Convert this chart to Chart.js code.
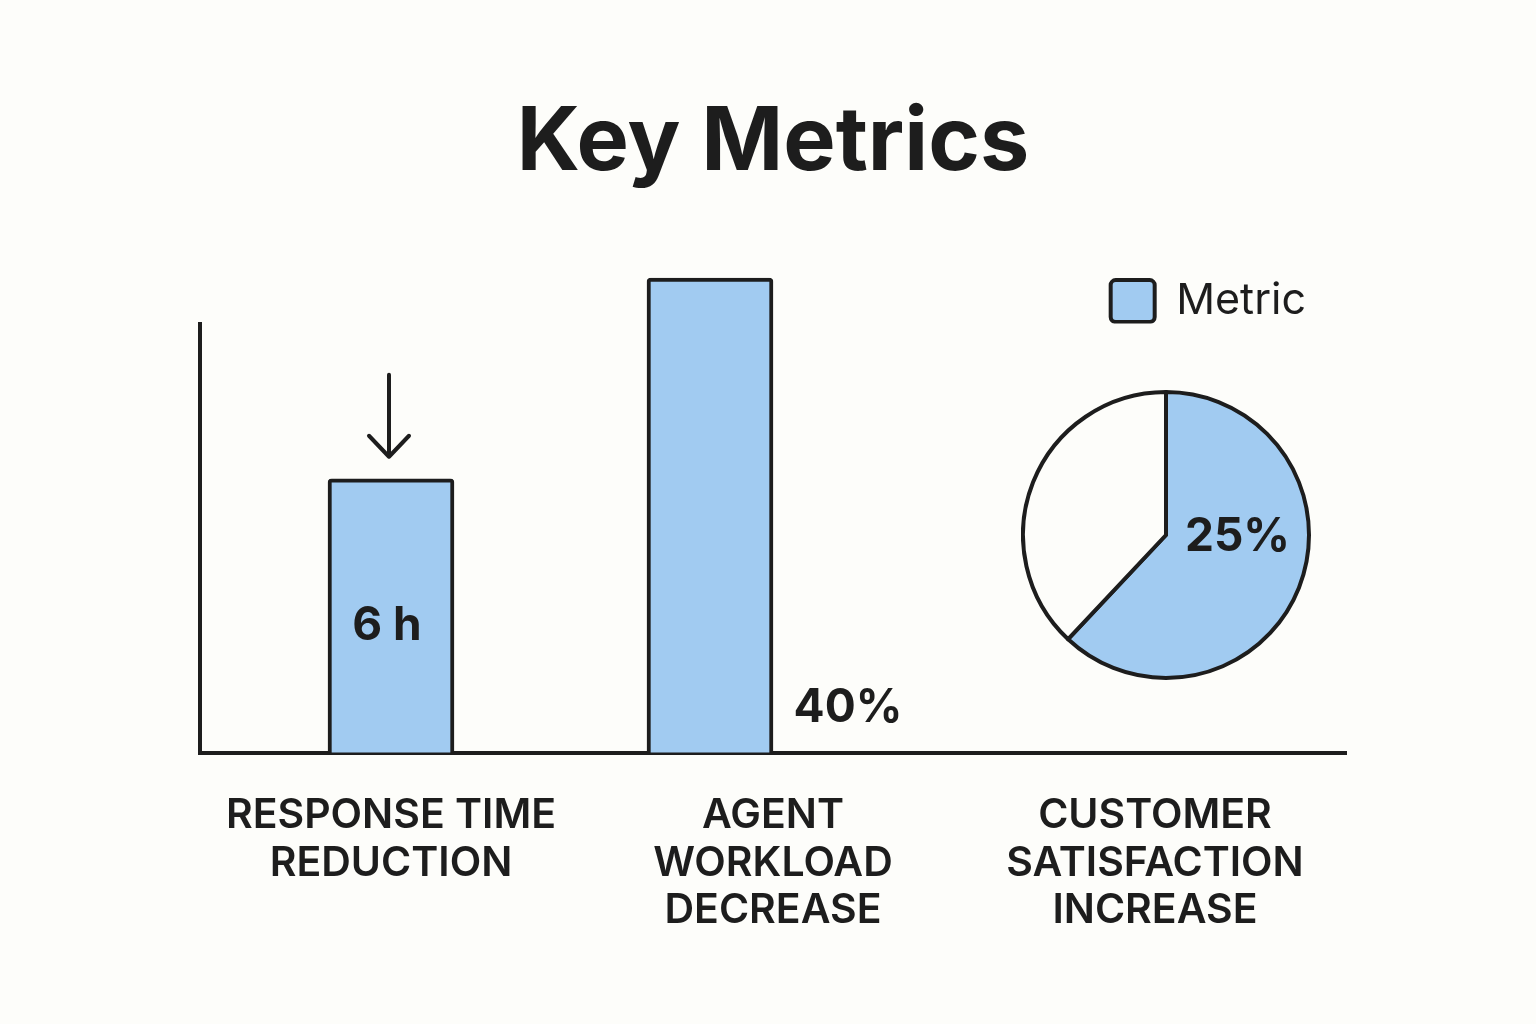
<!DOCTYPE html>
<html>
<head>
<meta charset="utf-8">
<title>Key Metrics</title>
<script src="https://cdn.jsdelivr.net/npm/chart.js@4.4.1/dist/chart.umd.min.js"></script>
<style>
    html, body { margin: 0; padding: 0; background: #fdfdfa; }
    #wrap { position: relative; width: 1536px; height: 1024px; }
    #main-chart { position: absolute; left: 0; top: 0; }
    #pie-chart { position: absolute; left: 1021px; top: 390px; }
</style>
</head>
<body>
<div id="wrap">
    <canvas id="main-chart" width="1536" height="1024"></canvas>
    <canvas id="pie-chart" width="290" height="290"></canvas>
</div>
<script>
// data
const categories = [
    ["RESPONSE TIME", "REDUCTION"],
    ["AGENT", "WORKLOAD", "DECREASE"],
    ["CUSTOMER", "SATISFACTION", "INCREASE"],
];
const metric_values = [6, 10.4, null];
// empty slot beside the workload bar, it only carries the "40%" note
const note_slot_values = [null, 0, null];
const value_notes = ["6 h", "40%", "25%"];
const satisfaction_labels = ["Metric", "Rest"];
const satisfaction_shares = [62, 38];
const y_axis_max = 9.4;

const INK = "#1d1d1d";
const BLUE = "#a1cbf1";
const PAPER = "#fdfdfa";

Chart.defaults.font.family = "Inter, 'Noto Sans', sans-serif";
Chart.defaults.color = INK;

document.addEventListener("DOMContentLoaded", () => {
    const note_font = "bold 46px Inter, 'Noto Sans', sans-serif";

    const bar_notes = {
        id: "bar_notes",
        afterDatasetsDraw(chart) {
            const ctx = chart.ctx;
            const bar = chart.getDatasetMeta(0).data[0];
            const slot = chart.getDatasetMeta(1).data[1];
            ctx.save();
            ctx.fillStyle = INK;
            ctx.font = note_font;
            ctx.textAlign = "center";
            ctx.textBaseline = "middle";
            ctx.fillText(value_notes[0], bar.x - 4, (bar.y + bar.base) / 2 + 11);
            ctx.fillText(value_notes[1], slot.x + 12, slot.base - 44);

            // arrow pointing down at the first bar
            ctx.strokeStyle = INK;
            ctx.lineWidth = 4;
            ctx.lineCap = "round";
            ctx.lineJoin = "round";
            const tip = bar.y - 22;
            ctx.beginPath();
            ctx.moveTo(bar.x - 2, bar.y - 104);
            ctx.lineTo(bar.x - 2, tip);
            ctx.moveTo(bar.x - 22, tip - 21);
            ctx.lineTo(bar.x - 2, tip);
            ctx.lineTo(bar.x + 18, tip - 21);
            ctx.stroke();
            ctx.restore();
        },
    };

    new Chart(document.getElementById("main-chart"), {
        type: "bar",
        data: {
            labels: categories,
            datasets: [
                {
                    label: "Metric",
                    data: metric_values,
                    backgroundColor: BLUE,
                    borderColor: INK,
                    borderWidth: 4,
                    borderRadius: 4,
                    barThickness: 126,
                    skipNull: true,
                    clip: false,
                },
                {
                    label: "note",
                    data: note_slot_values,
                    backgroundColor: "rgba(0,0,0,0)",
                    borderWidth: 0,
                    barThickness: 126,
                    skipNull: true,
                },
            ],
        },
        options: {
            responsive: false,
            animation: false,
            events: [],
            layout: {
                padding: { top: 91, left: 200, right: 190, bottom: 50 },
            },
            plugins: {
                title: {
                    display: true,
                    text: "Key Metrics",
                    color: INK,
                    font: { size: 88, weight: "bold", lineHeight: 1.2 },
                    padding: { top: 0, bottom: 43 },
                },
                legend: {
                    position: "top",
                    align: "end",
                    fullSize: false,
                    maxHeight: 84,
                    labels: {
                        filter: (item) => item.datasetIndex === 0,
                        boxWidth: 44,
                        boxHeight: 42,
                        padding: 40,
                        useBorderRadius: true,
                        borderRadius: 5,
                        color: INK,
                        font: { size: 43, weight: "normal" },
                    },
                },
                tooltip: { enabled: false },
            },
            scales: {
                x: {
                    grid: { display: false, drawTicks: false },
                    border: { color: INK, width: 4 },
                    ticks: {
                        color: INK,
                        padding: 40,
                        maxRotation: 0,
                        autoSkip: false,
                        font: { size: 41, weight: "600", lineHeight: 1.15 },
                    },
                },
                y: {
                    min: 0,
                    max: y_axis_max,
                    grid: { display: false, drawTicks: false },
                    border: { color: INK, width: 4 },
                    ticks: { display: false },
                },
            },
        },
        plugins: [bar_notes],
    });

    const pie_note = {
        id: "pie_note",
        afterDatasetsDraw(chart) {
            const ctx = chart.ctx;
            const arc = chart.getDatasetMeta(0).data[0];
            ctx.save();
            ctx.fillStyle = INK;
            ctx.font = note_font;
            ctx.textAlign = "center";
            ctx.textBaseline = "middle";
            ctx.fillText(value_notes[2], arc.x + arc.outerRadius * 0.5, arc.y + 2);
            ctx.restore();
        },
    };

    new Chart(document.getElementById("pie-chart"), {
        type: "pie",
        data: {
            labels: satisfaction_labels,
            datasets: [{
                data: satisfaction_shares,
                backgroundColor: [BLUE, PAPER],
                borderColor: INK,
                borderWidth: 4,
                borderJoinStyle: "round",
                hoverOffset: 0,
            }],
        },
        options: {
            responsive: false,
            animation: false,
            events: [],
            plugins: {
                legend: { display: false },
                tooltip: { enabled: false },
            },
        },
        plugins: [pie_note],
    });
});
</script>
</body>
</html>
